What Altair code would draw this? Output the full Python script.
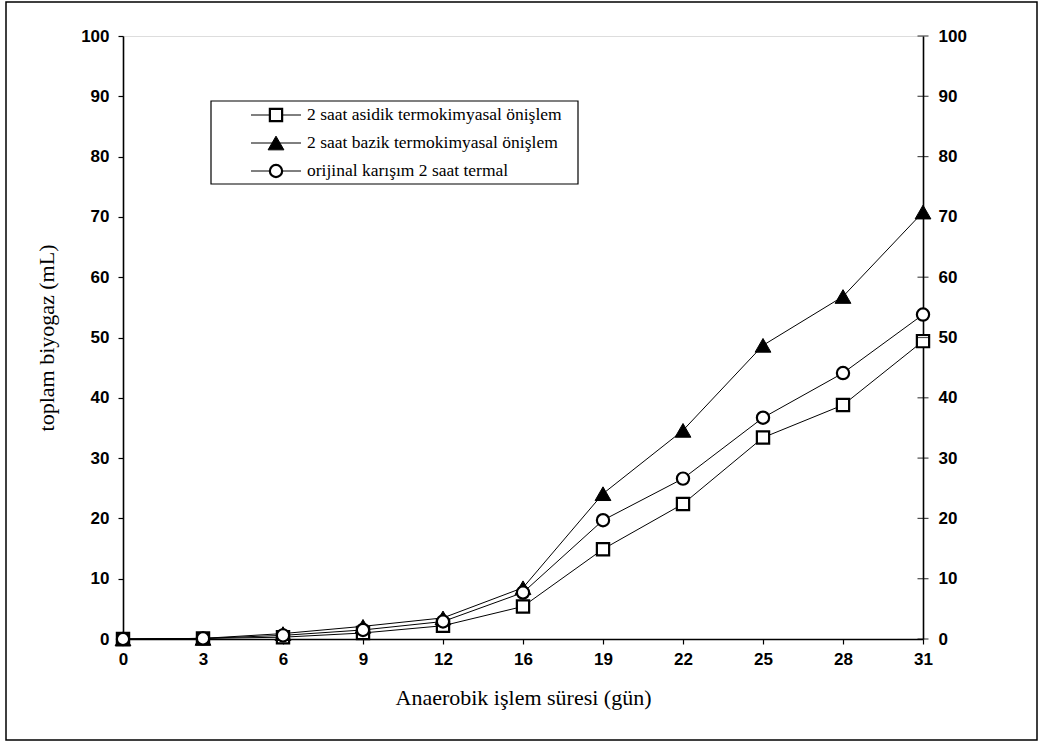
import altair as alt
import pandas as pd

# Sampling days (plotted as evenly spaced categories)
days = ["0", "3", "6", "9", "12", "16", "19", "22", "25", "28", "31"]

# Cumulative biogas (mL) per pretreatment
asidik = [0.0, 0.1, 0.3, 1.0, 2.2, 5.4, 14.9, 22.4, 33.4, 38.8, 49.4]
bazik = [0.0, 0.1, 0.9, 2.1, 3.5, 8.5, 24.1, 34.6, 48.7, 56.8, 70.8]
termal = [0.0, 0.1, 0.6, 1.5, 2.9, 7.7, 19.7, 26.6, 36.7, 44.1, 53.8]

series_names = [
    "2 saat asidik termokimyasal önişlem",
    "2 saat bazik termokimyasal önişlem",
    "orijinal karışım 2 saat termal",
]
series_values = [asidik, bazik, termal]
y_ticks = list(range(0, 101, 10))

W, H = 800, 603
SANS = "Liberation Sans"
SERIF = "Liberation Serif"

x_scale = alt.Scale(domain=days, type="point", padding=0)
y_scale = alt.Scale(domain=[0, 100], nice=False)

frames = []
for name, vals in zip(series_names, series_values):
    frames.append(pd.DataFrame({"gun": days, "biyogaz": vals, "seri": name}))
df = pd.concat(frames, ignore_index=True)

x_enc = alt.X(
    "gun:O",
    scale=x_scale,
    sort=days,
    title="Anaerobik işlem süresi (gün)",
    axis=alt.Axis(
        labelAngle=0,
        tickSize=5,
        labelPadding=7,
        labelFont=SANS,
        labelFontSize=17,
        labelFontWeight="bold",
        labelColor="black",
        titleFont=SERIF,
        titleFontSize=22,
        titleFontWeight="normal",
        titleColor="black",
        titlePadding=20,
        domainColor="black",
        domainWidth=1.6,
        tickColor="black",
        tickWidth=1.2,
    ),
)

lines = (
    alt.Chart(df)
    .mark_line(color="black", strokeWidth=1)
    .encode(
        x=x_enc,
        y=alt.Y(
            "biyogaz:Q",
            scale=y_scale,
            title="toplam biyogaz (mL)",
            axis=alt.Axis(
                orient="left",
                values=y_ticks,
                grid=False,
                tickSize=5,
                labelPadding=9,
                labelFont=SANS,
                labelFontSize=17,
                labelFontWeight="bold",
                labelColor="black",
                titleFont=SERIF,
                titleFontSize=22,
                titleFontWeight="normal",
                titleColor="black",
                titlePadding=22,
                domainColor="black",
                domainWidth=1.6,
                tickColor="black",
                tickWidth=1.2,
            ),
        ),
        detail="seri:N",
    )
)

marker_style = {
    series_names[0]: dict(shape="square", size=150, filled=True, fill="white",
                          stroke="black", strokeWidth=2.2, opacity=1),
    series_names[1]: dict(shape="triangle-up", size=250, filled=True, fill="black",
                          stroke="black", strokeWidth=1, opacity=1),
    series_names[2]: dict(shape="circle", size=150, filled=True, fill="white",
                          stroke="black", strokeWidth=2.2, opacity=1),
}

points = []
for name in series_names:
    points.append(
        alt.Chart(df[df["seri"] == name])
        .mark_point(**marker_style[name])
        .encode(
            x=alt.X("gun:O", scale=x_scale, sort=days),
            y=alt.Y("biyogaz:Q", scale=y_scale, axis=None),
        )
    )

# Right-hand mirror axis with ticks crossing the axis line
tick_df = pd.DataFrame({"gun": [days[-1]] * len(y_ticks), "biyogaz": y_ticks})
right_ticks = (
    alt.Chart(tick_df)
    .mark_tick(color="black", size=11, thickness=1.2, orient="horizontal")
    .encode(
        x=alt.X("gun:O", scale=x_scale, sort=days),
        y=alt.Y(
            "biyogaz:Q",
            scale=y_scale,
            title=None,
            axis=alt.Axis(
                orient="right",
                values=y_ticks,
                grid=False,
                ticks=False,
                labelPadding=15,
                labelFont=SANS,
                labelFontSize=17,
                labelFontWeight="bold",
                labelColor="black",
                domainColor="black",
                domainWidth=1.6,
            ),
        ),
    )
)

# Boxed legend inside the plot area
one = pd.DataFrame({"k": [0]})
legend_layers = [
    alt.Chart(one)
    .mark_rect(fill="white", stroke="black", strokeWidth=1.2)
    .encode(x=alt.value(88), x2=alt.value(455), y=alt.value(65), y2=alt.value(148))
]
row_y = [79, 107, 135]
for name, ry in zip(series_names, row_y):
    legend_layers.append(
        alt.Chart(one)
        .mark_rule(color="black", strokeWidth=1)
        .encode(x=alt.value(128), x2=alt.value(178), y=alt.value(ry))
    )
    legend_layers.append(
        alt.Chart(one)
        .mark_point(**marker_style[name])
        .encode(x=alt.value(153), y=alt.value(ry))
    )
    legend_layers.append(
        alt.Chart(pd.DataFrame({"t": [name]}))
        .mark_text(font=SERIF, fontSize=17.5, align="left", baseline="middle", color="black")
        .encode(x=alt.value(184), y=alt.value(ry), text="t:N")
    )

# Outer figure frame
frame = (
    alt.Chart(one)
    .mark_rect(fill=None, stroke="black", strokeWidth=1.5)
    .encode(x=alt.value(-117), x2=alt.value(914), y=alt.value(-34), y2=alt.value(704))
)

chart = (
    alt.layer(frame, lines, *points, right_ticks, *legend_layers)
    .resolve_axis(y="independent")
    .properties(width=W, height=H, padding={"left": 5, "top": 1, "right": 2, "bottom": 2})
    .configure_view(stroke="black", strokeWidth=1.6)
    .configure(background="white")
)

chart.save("out.html", embed_options={"renderer": "svg", "actions": False})
